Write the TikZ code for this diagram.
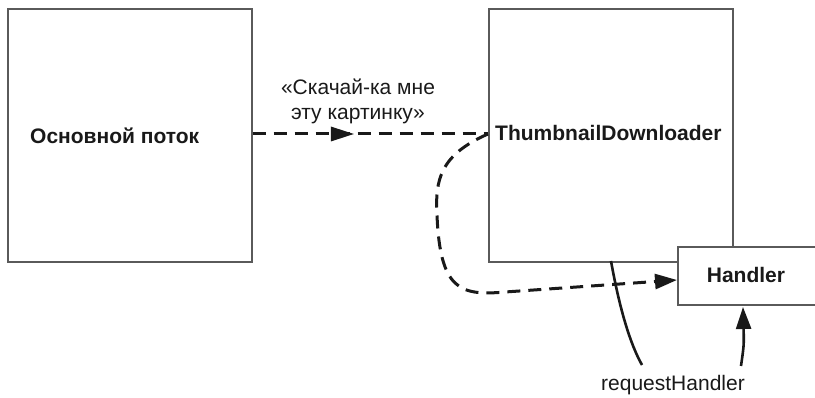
\documentclass[tikz,border=0pt]{standalone}
\usepackage{fontspec}
\setmainfont{Liberation Sans}
\usetikzlibrary{arrows.meta,decorations.markings}
\definecolor{boxgray}{HTML}{5A5A5A}
\tikzset{
  box/.style={draw=boxgray, line width=1.6pt, fill=white, inner sep=0pt, anchor=north west},
  lbl/.style={font=\fontsize{21}{25}\selectfont\bfseries, inner sep=0pt, text=black!90},
  plain/.style={font=\fontsize{21}{25}\selectfont, inner sep=0pt, text=black!90, align=center},
  dashline/.style={line width=3pt, dash pattern=on 13pt off 8pt, black!90},
  solidline/.style={line width=2.6pt, black!90},
  tip/.style={-{Triangle[length=22pt,width=15pt]}}
}
\begin{document}
\begin{tikzpicture}[x=1pt,y=-1pt]
\useasboundingbox (0,0) rectangle (815,398);
% boxes
\node[box, minimum width=244pt, minimum height=253pt] (main) at (7,8) {};
\node[box, minimum width=244pt, minimum height=253pt] (td) at (488,8) {};
\node[box, minimum width=150pt, minimum height=58pt] (handler) at (677,246) {};
% texts
\node[lbl, anchor=west] (maintxt) at (30,136) {Основной поток};
\node[lbl, anchor=west] (tdtxt) at (495,133) {ThumbnailDownloader};
\node[lbl] (htxt) at (746,275) {Handler};
\node[plain] (quote) at (358,101) {«Скачай-ка мне\\эту картинку»};
\node[plain] (rh) at (673,385) {requestHandler};
% coordinates
\coordinate (a1) at (main.east |- 0,134);
\coordinate (a2) at (td.west |- 0,134);
\coordinate (h1) at (handler.west |- 0,280);
\coordinate (s1) at (611,261);
\coordinate (s2) at (642,365);
\coordinate (r1) at (741,366);
\coordinate (r2) at (743,307);
% connector main -> td
\draw[dashline, postaction={decorate}, decoration={markings, mark=at position 0.43 with {\fill[black!90] (0,0) -- (-23pt,-7.5pt) -- (-23pt,7.5pt) -- cycle;}}] (a1) -- (a2);
% connector td -> handler
\draw[dashline, tip] (a2) .. controls (440,155) and (435,180) .. (437,215)
  .. controls (440,290) and (460,296) .. (505,292) -- (h1);
% solid line
\draw[solidline] (s1) .. controls (618,300) and (628,340) .. (s2);
% arrow to handler
\draw[solidline, tip] (r1) .. controls (744,345) .. (r2);
\end{tikzpicture}
\end{document}
